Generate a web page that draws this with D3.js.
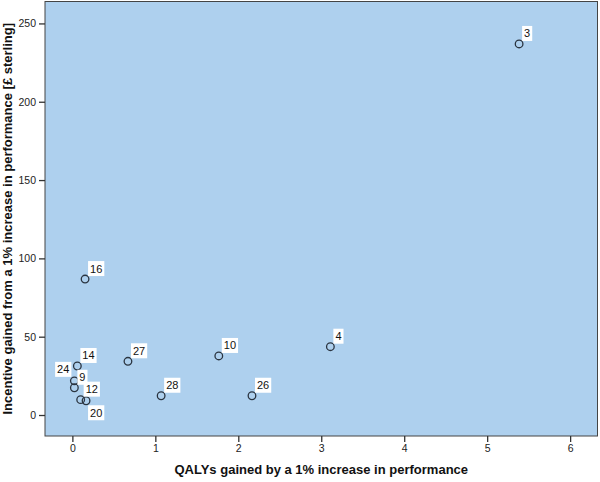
<!DOCTYPE html>
<html><head><meta charset="utf-8">
<script src="https://cdn.jsdelivr.net/npm/d3@7"></script>
<style>body{margin:0;background:#fff}svg{display:block;font-family:"Liberation Sans",Arial,sans-serif}</style>
</head><body><svg id="c" width="600" height="482"></svg>
<script>
const ids = ["3","4","16","14","27","28","24","9","12","20","10","26"];
const qalys = [5.385, 3.11, 0.153, 0.06, 0.67, 1.07, 0.024, 0.024, 0.10, 0.165, 1.765, 2.165];
const incentive = [236.9, 43.6, 86.8, 31.3, 34.3, 12.3, 21.8, 17.4, 9.8, 9.1, 37.7, 12.3];
const labelPlace = ["ur","ur","ur","ur","ur","ur","ul","ur","ur","dr","ur","ur"];
const xTicks = [0,1,2,3,4,5,6];
const yTicks = [0,50,100,150,200,250];
const xTitle = "QALYs gained by a 1% increase in performance";
const yTitle = "Incentive gained from a 1% increase in performance [£ sterling]";

const svg = d3.select("#c");
const L = 45, R = 597.5, T = 1.5, B = 436;
const x = d3.scaleLinear().domain([-0.33, 6.33]).range([L, R]);
const y = d3.scaleLinear().domain([-13.4, 264]).range([B, T]);

svg.append("rect").attr("x", L).attr("y", T).attr("width", R - L).attr("height", B - T)
  .attr("fill", "#aed0ee").attr("stroke", "#444").attr("stroke-width", 1);

const xa = svg.append("g").attr("transform", `translate(0,${B})`)
  .call(d3.axisBottom(x).tickValues(xTicks).tickSize(6).tickPadding(3).tickFormat(d3.format("d")));
const ya = svg.append("g").attr("transform", `translate(${L},0)`)
  .call(d3.axisLeft(y).tickValues(yTicks).tickSize(6).tickPadding(3).tickFormat(d3.format("d")));
[xa, ya].forEach(a => {
  a.select(".domain").remove();
  a.selectAll(".tick line").attr("stroke", "#333").attr("stroke-width", 1.3);
  a.selectAll(".tick text").attr("fill", "#222").attr("font-size", 10.5)
    .attr("font-family", "'Liberation Sans',Arial,sans-serif");
});

svg.append("text").attr("x", (L + R) / 2).attr("y", 474).attr("text-anchor", "middle")
  .attr("font-weight", "bold").attr("font-size", 13).attr("fill", "#111").text(xTitle);
svg.append("text").attr("transform", `translate(12,${(T + B) / 2}) rotate(-90)`)
  .attr("text-anchor", "middle").attr("font-weight", "bold").attr("font-size", 13)
  .attr("fill", "#111").text(yTitle);

const data = ids.map((id, i) => ({id, q: qalys[i], v: incentive[i], p: labelPlace[i]}));

svg.append("g").selectAll("circle").data(data).join("circle")
  .attr("cx", d => x(d.q)).attr("cy", d => y(d.v)).attr("r", 3.8)
  .attr("fill", "none").attr("stroke", "#2a3440").attr("stroke-width", 1.3);

const lg = svg.append("g");
data.forEach(d => {
  const cx = x(d.q), cy = y(d.v);
  const t = lg.append("text").attr("font-size", 11).attr("fill", "#111").text(d.id);
  const w = t.node().getComputedTextLength() + 4, h = 15;
  let bx, by;
  if (d.p === "ur") { bx = cx + 3; by = cy - 3 - h; }
  else if (d.p === "ul") { bx = cx - 3 - w; by = cy - 4 - h; }
  else { bx = cx + 2; by = cy + 4.5; }
  lg.insert("rect", "text").attr("x", bx).attr("y", by).attr("width", w).attr("height", h).attr("fill", "#fff");
  t.attr("x", bx + w / 2).attr("y", by + 11.5).attr("text-anchor", "middle");
});
</script></body></html>
